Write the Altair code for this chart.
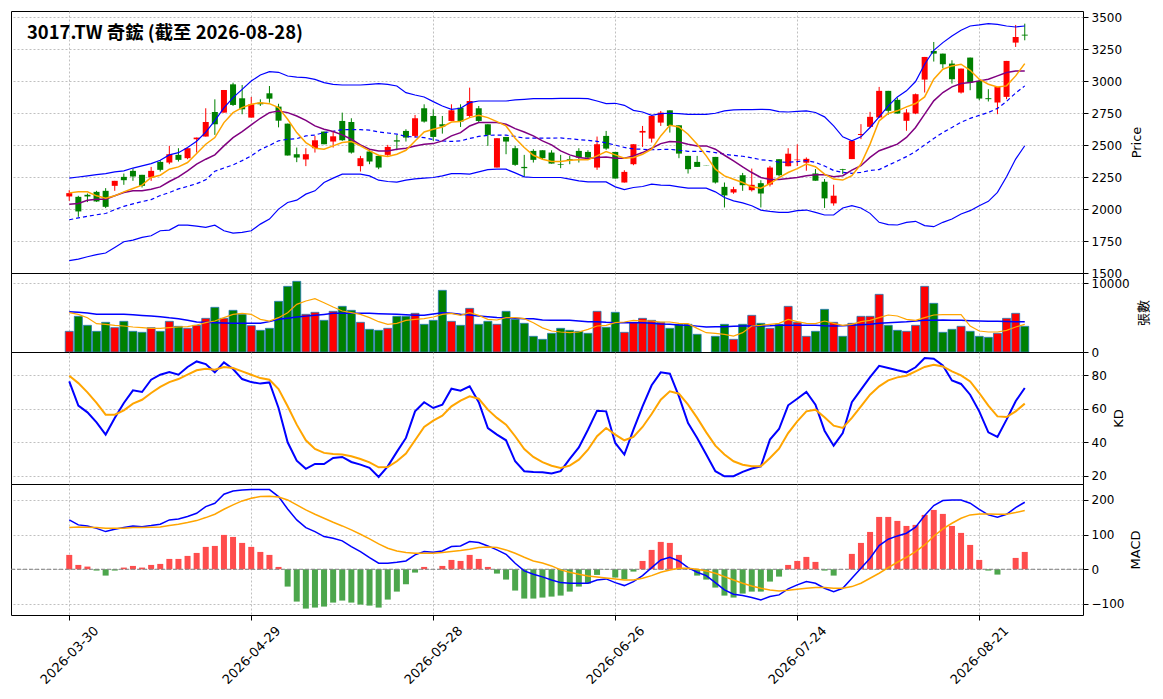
import altair as alt
import pandas as pd

title_text = "3017.TW 奇鋐 (截至 2026-08-28)"
tick_pos = [0, 20, 40, 60, 80, 100]
tick_labels = ["2026-03-30", "2026-04-29", "2026-05-28", "2026-06-26", "2026-07-24", "2026-08-21"]

open_ = [2098,2095,2111,2134,2142,2181,2251,2298,2267,2246,
 2368,2363,2423,2397,2545,2566,2758,2753,2974,2865,
 2714,2831,2904,2800,2667,2428,2387,2475,2605,2527,
 2688,2680,2335,2449,2415,2423,2537,2610,2571,2787,
 2727,2662,2688,2792,2727,2787,2662,2324,2563,2475,
 2329,2454,2459,2441,2350,2389,2454,2446,2324,2571,
 2446,2207,2350,2597,2550,2675,2771,2654,2415,2368,
 2338,2407,2173,2129,2264,2147,2202,2191,2389,2334,
 2382,2362,2278,2213,2044,2312,2390,2578,2642,2715,
 2923,2853,2689,2746,3011,3235,3214,3136,2910,3183,
 3001,2866,2832,2876,3300,3362]
high = [2147,2103,2121,2142,2163,2220,2277,2316,2267,2329,
 2381,2493,2475,2475,2558,2787,2857,2930,2987,2969,
 2875,2857,2961,2822,2667,2480,2475,2571,2605,2605,
 2753,2709,2415,2467,2415,2501,2579,2623,2735,2818,
 2779,2727,2818,2818,2948,2805,2662,2553,2563,2493,
 2423,2467,2459,2459,2423,2415,2475,2459,2566,2610,
 2446,2303,2506,2649,2727,2766,2771,2654,2415,2415,
 2338,2407,2207,2173,2282,2316,2225,2337,2389,2475,
 2505,2403,2312,2234,2190,2314,2533,2663,2759,2954,
 2923,2871,2780,2902,3188,3305,3214,3162,3097,3183,
 3014,2936,2954,3157,3438,3448]
low = [2064,1939,2054,2056,2007,2142,2189,2220,2168,2220,
 2293,2350,2371,2389,2441,2566,2579,2753,2805,2740,
 2714,2805,2831,2638,2418,2366,2335,2441,2506,2480,
 2532,2433,2293,2350,2311,2415,2459,2527,2558,2675,
 2532,2589,2688,2641,2719,2675,2493,2324,2428,2337,
 2251,2363,2389,2355,2319,2350,2363,2397,2306,2462,
 2238,2207,2342,2485,2519,2649,2597,2397,2277,2329,
 2336,2199,2012,2119,2142,2137,2012,2176,2254,2334,
 2336,2299,2221,2008,2026,2273,2390,2546,2632,2710,
 2736,2746,2611,2741,2910,3152,3100,2980,2902,2928,
 2850,2840,2741,2858,3266,3318]
close = [2124,1981,2098,2059,2017,2220,2225,2254,2181,2298,
 2306,2428,2384,2475,2558,2680,2662,2930,2813,2779,
 2818,2818,2862,2690,2418,2402,2428,2537,2506,2568,
 2537,2441,2397,2371,2324,2485,2527,2558,2709,2683,
 2563,2644,2771,2683,2844,2688,2579,2553,2527,2345,
 2319,2384,2397,2355,2345,2381,2402,2402,2506,2472,
 2238,2290,2506,2610,2727,2753,2649,2433,2311,2329,
 2336,2207,2106,2155,2186,2189,2121,2324,2264,2432,
 2386,2392,2221,2083,2104,2306,2533,2586,2720,2923,
 2767,2746,2754,2897,3188,3214,3131,3014,3097,2988,
 2863,2858,2954,3157,3344,3355]
volume = [2995,5168,3864,2995,4299,3526,4444,2995,2850,3526,
 2995,4444,3719,3429,3864,4878,6472,4878,6038,5458,
 3816,3140,3429,7342,9515,10240,5458,5748,4589,5893,
 6617,6038,4299,3284,3140,3429,5168,5168,5603,4009,
 4589,8936,4444,3864,6327,4009,4444,4009,5893,4733,
 4154,2270,1835,2705,3429,3140,2995,2705,5893,3574,
 5748,2850,4299,4878,4589,4299,3429,4009,4009,2560,
 None,2270,4009,1835,4009,5313,4154,3429,4009,6617,
 4299,2270,2995,6182,4299,2270,4154,5168,5168,8356,
 3864,3140,2995,3864,9515,7052,2850,3284,3719,2995,
 2270,2125,2705,4878,5603,3719]

ma5 = [2126,2134,2134,2103,2085,2103,2134,2160,2186,2246,
 2264,2311,2329,2363,2433,2506,2558,2675,2753,2792,
 2818,2831,2823,2792,2701,2597,2519,2475,2467,2493,
 2519,2527,2493,2454,2420,2410,2428,2459,2532,2602,
 2623,2641,2680,2683,2714,2732,2714,2683,2649,2553,
 2480,2420,2389,2371,2371,2381,2384,2384,2415,2449,
 2423,2397,2402,2428,2467,2571,2654,2641,2584,2506,
 2415,2311,2259,2233,2207,2173,2163,2199,2246,2285,
 2315,2351,2330,2273,2234,2226,2260,2351,2507,2689,
 2746,2767,2798,2824,2876,3014,3092,3118,3131,3084,
 3014,2975,2954,2962,3040,3136]
ma10 = [2038,2043,2069,2077,2077,2103,2129,2142,2142,2155,
 2173,2215,2251,2298,2350,2389,2423,2493,2558,2605,
 2657,2709,2753,2766,2753,2727,2693,2649,2623,2605,
 2579,2545,2501,2467,2454,2454,2467,2475,2493,2506,
 2511,2532,2571,2597,2649,2675,2675,2675,2662,2628,
 2602,2571,2532,2501,2454,2423,2402,2394,2402,2407,
 2397,2397,2415,2441,2475,2511,2527,2524,2506,2493,
 2493,2467,2420,2376,2329,2285,2246,2231,2231,2238,
 2247,2260,2268,2268,2252,2260,2304,2338,2403,2455,
 2481,2507,2559,2637,2741,2845,2910,2954,2980,2988,
 3001,3014,3040,3066,3079,3079]
bb_up = [2241,2250,2259,2268,2277,2290,2298,2320,2337,2355,
 2381,2423,2440,2480,2530,2600,2690,2790,2870,2935,
 3000,3047,3073,3068,3039,3031,3026,3013,2987,2974,
 2969,2969,2969,2974,2979,2974,2961,2909,2891,2875,
 2839,2805,2779,2787,2831,2844,2844,2844,2844,2852,
 2857,2862,2862,2862,2865,2865,2865,2862,2844,2823,
 2826,2810,2771,2758,2732,2745,2748,2745,2740,2740,
 2740,2748,2766,2774,2776,2776,2779,2776,2761,2758,
 2762,2767,2754,2720,2650,2564,2533,2564,2637,2720,
 2806,2876,2923,2996,3131,3240,3300,3352,3396,3430,
 3438,3448,3443,3430,3422,3430]
bb_mid = [1916,1930,1943,1955,1965,1995,2021,2040,2058,2073,
 2105,2129,2157,2177,2198,2228,2295,2320,2345,2378,
 2415,2464,2497,2533,2545,2550,2571,2578,2597,2607,
 2620,2620,2620,2616,2602,2594,2585,2567,2563,2558,
 2542,2532,2528,2532,2551,2567,2576,2577,2577,2567,
 2554,2554,2554,2554,2555,2549,2542,2537,2528,2517,
 2499,2481,2469,2467,2463,2465,2466,2459,2451,2451,
 2451,2441,2428,2419,2412,2400,2385,2378,2367,2365,
 2370,2379,2364,2336,2301,2286,2279,2286,2301,2308,
 2342,2375,2409,2450,2500,2551,2598,2637,2678,2708,
 2732,2754,2786,2841,2906,2962]
bb_low = [1596,1609,1627,1643,1656,1700,1744,1757,1778,1791,
 1830,1835,1874,1874,1866,1856,1874,1830,1812,1817,
 1830,1882,1921,1999,2051,2069,2116,2142,2207,2241,
 2272,2272,2272,2259,2225,2215,2210,2225,2236,2241,
 2246,2259,2277,2277,2272,2290,2308,2311,2311,2282,
 2251,2246,2246,2246,2246,2233,2220,2212,2212,2212,
 2173,2152,2168,2176,2194,2186,2184,2173,2163,2163,
 2163,2134,2090,2064,2048,2025,1991,1981,1973,1973,
 1987,1992,1974,1953,1953,2008,2026,2008,1966,1896,
 1878,1875,1896,1904,1870,1862,1896,1922,1961,1987,
 2026,2060,2130,2252,2390,2494]

vol_ma5 = [5700,5458,4975,4106,4009,3864,3767,3623,3526,3429,
 3429,3526,3623,3671,3912,4250,4492,4975,5458,5603,
 5458,4733,4492,4975,5700,6907,7390,7728,7149,6520,
 5941,5700,5458,4975,4395,4009,4154,4589,4733,4830,
 5072,5458,5603,5313,5700,5313,4733,4637,4975,4975,
 4830,4250,3500,3043,2898,2802,2898,3284,3767,3864,
 4250,4347,4589,4492,4492,4347,4347,4154,4106,3429,
 2802,2705,2560,2318,2802,3767,3864,4009,4154,4733,
 4395,4154,4106,4492,4154,3864,4009,4395,4589,4975,
 5361,5216,4733,4589,4975,5361,5409,5409,5409,3767,
 3043,2898,2898,3140,3623,4009]
vol_ma20 = [5845,5750,5650,5458,5458,5458,5458,5400,5300,5216,
 5100,4950,4830,4600,4347,4300,4250,4200,4154,4154,
 4154,4154,4400,4733,4900,5072,5200,5313,5450,5603,
 5603,5603,5603,5603,5550,5500,5458,5400,5313,5313,
 5500,5700,5600,5458,5350,5216,5100,5000,4975,4900,
 4830,4830,4637,4589,4589,4589,4500,4395,4395,4300,
 4250,4250,4250,4250,4150,4050,4009,3900,3864,3750,
 3623,3650,3671,3720,3767,3767,3767,3800,3864,3864,
 3864,3864,3864,3800,3767,3800,3864,3950,4009,4150,
 4250,4320,4395,4500,4589,4610,4637,4610,4589,4540,
 4492,4470,4444,4420,4395,4395]

k_val = [76.2,61.8,57.8,51.9,44.6,54.5,63.4,70.9,69.9,77.2,
 80.2,81.8,80.2,84.8,88.1,86.5,81.6,87.5,83.6,77.6,
 75.8,74.9,75.6,60.4,40.0,29.1,24.2,27.1,27.1,30.7,
 31.3,28.3,26.7,24.8,19.4,25.7,34.3,42.6,58.4,63.8,
 60.4,62.4,71.9,70.7,73.3,63.8,48.5,44.6,41.2,28.7,
 22.8,22.4,22.2,21.4,22.8,30.1,37.0,47.5,58.8,58.4,
 39.6,32.7,47.5,61.4,73.9,81.6,80.8,67.3,51.5,42.6,
 32.7,22.8,19.8,19.8,22.4,24.4,25.7,41.6,47.9,62.0,
 65.9,69.9,62.4,46.9,38.0,45.5,63.8,71.3,78.8,85.5,
 84.2,82.8,81.6,84.6,90.1,89.7,85.7,76.8,74.7,68.3,
 58.4,45.9,43.2,53.5,64.4,72.3]
d_val = [79.6,75.2,69.7,63.4,56.4,56.4,59.0,63.0,65.3,69.3,
 72.9,75.8,77.6,80.2,82.8,83.8,83.2,84.8,84.2,82.2,
 80.2,78.2,77.2,71.7,61.4,50.5,41.2,36.0,33.7,33.1,
 32.7,31.7,30.1,28.1,25.1,25.3,28.7,33.3,41.2,49.1,
 52.9,55.8,61.4,64.8,67.3,65.9,59.4,54.5,50.5,43.6,
 36.0,31.3,28.2,26.1,24.8,26.1,29.7,35.6,43.6,48.5,
 44.6,41.2,43.2,49.1,56.8,65.3,70.3,68.9,62.4,54.5,
 45.9,38.0,32.7,28.7,26.7,25.7,25.7,30.7,36.2,45.5,
 52.5,58.4,59.4,54.9,49.9,48.5,54.5,61.4,68.3,73.3,
 76.8,78.6,79.6,82.2,84.8,86.1,85.1,82.2,79.8,76.2,
 69.3,61.8,55.4,55.0,58.4,63.0]

dif = [142.4,128,125,118,108.7,115.4,120.2,125,123,126,
 129.9,142.4,145.3,152,161.6,180.9,190.5,216.5,226,229,
 230,230,230,209.7,174.1,142.4,120.2,108.7,94.3,89.5,
 81.8,65.4,51,33.7,17.3,17.3,20.2,24.0,41.4,51,
 49.1,52.9,65.4,67.3,79.8,77,67.3,55.8,43.3,17.3,
 -4.8,-14.4,-22,-30.8,-38.5,-40.4,-40.4,-40.4,-30.8,-27.9,
 -38.5,-47.1,-35.6,-18.3,4.8,26.9,34.6,24,4.8,-8.7,
 -18.3,-38.5,-59.6,-72.1,-76,-81.7,-88.5,-78.9,-74,-56.7,
 -45.2,-35.6,-40.4,-54.8,-64.5,-54.8,-26,2.9,31.7,68.3,
 86.6,96.2,103.9,121.2,154.9,183.7,198.2,200,200,190.5,
 173.1,156.8,150.1,158.7,178,193.4]
dea = [120.2,122.2,121.2,120.2,118.3,118.3,118.3,120.2,120.2,121.2,
 122.2,126,129.9,134.7,140.4,149.1,158.7,173.1,185.7,197.2,
 204.9,209.7,210.6,208.6,200,185.7,171.2,158.7,147.2,135.6,
 125,113.5,101,87.5,73.1,60.6,52.9,48.1,46.2,46.2,
 46.2,48.1,51,53.9,57.7,62.5,64.5,62.5,55.8,46.2,
 34.6,24,18,9.6,-1.9,-8.7,-14.4,-19.2,-22.1,-25,
 -27.9,-30.8,-30.8,-26,-18.3,-8.7,-1.9,2.9,2.9,0,
 -4.8,-11.5,-21.2,-30.8,-40.4,-48.1,-54.8,-59.6,-62.5,-60.6,
 -57.7,-54.8,-52.9,-52.9,-54.8,-54.8,-50,-40.4,-26,-11.5,
 4.8,20.2,34.6,51,70.2,95.2,116.3,132.7,147.2,156.8,
 159.7,159.7,158.7,158.7,163.5,169.3]
osc = [41.4,12.5,7.7,-3.8,-18.3,-3.8,4.8,9.6,4.8,12.5,
 15.4,29.8,29.8,38.5,47.1,64.5,67.3,99.1,93.3,76.0,
 64.5,50.0,41.4,6.7,-50.0,-93.3,-113.5,-110.6,-107.7,-96.2,
 -90.4,-96.2,-102.0,-104.9,-110.6,-87.5,-64.5,-43.3,-9.6,6.7,
 0,9.6,26.9,24.0,41.4,29.8,6.7,-12.5,-29.8,-61.5,
 -84.6,-84.6,-81.7,-78.9,-76,-64.5,-50,-41.4,-16.3,-1,
 -24,-28.9,-6.7,24,55.8,78.9,76,41.4,3,-18.3,
 -29.8,-52.9,-76,-81.7,-70.2,-64.5,-64.5,-35.6,-21.2,12.5,
 24,35.6,21.2,-3.8,-18.3,0,44.3,76,107.7,151,
 151,139.5,125,128,156.8,171.2,159.7,125,104.9,70.2,
 26.9,-3.8,-15.4,0,32.7,50]


def frame(**cols):
    d = pd.DataFrame({k: pd.Series(v, dtype="float") for k, v in cols.items()})
    d["idx"] = list(range(len(d)))
    return d


candles = frame(open=open_, high=high, low=low, close=close, volume=volume)
lines = frame(ma5=ma5, ma10=ma10, bb_up=bb_up, bb_mid=bb_mid, bb_low=bb_low,
              vol_ma5=vol_ma5, vol_ma20=vol_ma20, k=k_val, d=d_val,
              dif=dif, dea=dea, osc=osc)

W = 1072
xs = alt.Scale(domain=[-6.4, 111.4], nice=False, zero=False, padding=0)
label_expr = " : ".join(f"datum.value == {p} ? '{l}'" for p, l in zip(tick_pos, tick_labels)) + " : ''"
x_hidden = alt.Axis(values=tick_pos, labels=False, ticks=False, domain=False, title=None, grid=True)
x_bottom = alt.Axis(values=tick_pos, labelExpr=label_expr, labelAngle=315, labelAlign="center",
                    labelBaseline="middle", labelPadding=35, labelFontSize=13, tickSize=5,
                    domain=False, title=None, grid=True, labelFlush=False)


def X(axis):
    return alt.X("idx:Q", scale=xs, axis=axis)


def yaxis(values, title, pad, font="DejaVu Sans"):
    return alt.Axis(orient="right", values=values, title=title, titleAngle=270, titleBaseline="top",
                    titlePadding=pad, titleFont=font, grid=True, tickSize=5, labelPadding=3,
                    domain=False, format="d")


def yscale(lo, hi):
    return alt.Scale(domain=[lo, hi], nice=False, zero=False, padding=0)


updown = alt.condition("datum.close >= datum.open", alt.value("#ff0000"), alt.value("#008000"))

# ---- price panel
ps = yscale(1500, 3547)
pax = yaxis([1500, 1750, 2000, 2250, 2500, 2750, 3000, 3250, 3500], "Price", 9)


def PY(f):
    return alt.Y(f, scale=ps, axis=pax)


cbase = alt.Chart(candles)
wick = cbase.mark_rule(strokeWidth=1, clip=True).encode(x=X(x_hidden), y=PY("low:Q"), y2="high:Q", color=updown)
body = cbase.mark_bar(size=6, clip=True).encode(x=X(x_hidden), y=PY("open:Q"), y2="close:Q", color=updown)
lbase = alt.Chart(lines)
up_l = lbase.mark_line(color="#0000ff", strokeWidth=1.2, clip=True).encode(x=X(x_hidden), y=PY("bb_up:Q"))
lo_l = lbase.mark_line(color="#0000ff", strokeWidth=1.2, clip=True).encode(x=X(x_hidden), y=PY("bb_low:Q"))
mid_l = lbase.mark_line(color="#0000ff", strokeWidth=1.2, strokeDash=[4, 3], clip=True).encode(x=X(x_hidden), y=PY("bb_mid:Q"))
ma10_l = lbase.mark_line(color="#800080", strokeWidth=1.5, clip=True).encode(x=X(x_hidden), y=PY("ma10:Q"))
ma5_l = lbase.mark_line(color="#ffa500", strokeWidth=1.5, clip=True).encode(x=X(x_hidden), y=PY("ma5:Q"))
ttl = alt.Chart(pd.DataFrame({"t": [title_text]})).mark_text(
    align="left", baseline="middle", font="Noto Sans CJK TC", fontSize=18.4, fontWeight="bold", color="black"
).encode(x=alt.value(16), y=alt.value(22), text="t:N")
price = alt.layer(wick, body, up_l, lo_l, mid_l, ma10_l, ma5_l, ttl).properties(width=W, height=262)

# ---- volume panel
vs = yscale(0, 11450)
vax = yaxis([0, 10000], "張數", 8, font="Noto Sans CJK TC")


def VY(f):
    return alt.Y(f, scale=vs, axis=vax)


vbars = cbase.mark_bar(size=8, stroke="#1f77b4", strokeWidth=0.8, clip=True).encode(
    x=X(x_hidden), y=VY("volume:Q"), color=updown)
v20 = lbase.mark_line(color="#0000ff", strokeWidth=1.5, clip=True).encode(x=X(x_hidden), y=VY("vol_ma20:Q"))
v5 = lbase.mark_line(color="#ffa500", strokeWidth=1.2, clip=True).encode(x=X(x_hidden), y=VY("vol_ma5:Q"))
vol = alt.layer(vbars, v20, v5).properties(width=W, height=79)

# ---- KD panel
ks = yscale(15.2, 93.7)
kax = yaxis([20, 40, 60, 80], "KD", 6)
k_l = lbase.mark_line(color="#0000ff", strokeWidth=2, clip=True).encode(x=X(x_hidden), y=alt.Y("k:Q", scale=ks, axis=kax))
d_l = lbase.mark_line(color="#ffa500", strokeWidth=2, clip=True).encode(x=X(x_hidden), y=alt.Y("d:Q", scale=ks, axis=kax))
kd = alt.layer(k_l, d_l).properties(width=W, height=132)

# ---- MACD panel
ms = yscale(-132, 246)
max_ = yaxis([-100, 0, 100, 200], "MACD", 6)


def MY(f):
    return alt.Y(f, scale=ms, axis=max_)


hist = lbase.mark_bar(size=6, clip=True).encode(
    x=X(x_bottom), y=MY("osc:Q"),
    color=alt.condition("datum.osc >= 0", alt.value("#ff4d4d"), alt.value("#4ca64c")))
zero = alt.Chart(pd.DataFrame({"z": [0.0]})).mark_rule(color="#808080", strokeWidth=1, strokeDash=[4, 2]).encode(
    y=MY("z:Q"))
dif_l = lbase.mark_line(color="#0000ff", strokeWidth=1.5, clip=True).encode(x=X(x_bottom), y=MY("dif:Q"))
dea_l = lbase.mark_line(color="#ffa500", strokeWidth=1.5, clip=True).encode(x=X(x_bottom), y=MY("dea:Q"))
macd = alt.layer(hist, zero, dif_l, dea_l).properties(width=W, height=131)

chart = alt.vconcat(price, vol, kd, macd, spacing=0, bounds="flush").properties(
    padding={"left": 2, "top": 2, "right": 2, "bottom": 2}, background="white"
).configure_view(stroke="black", strokeWidth=1).configure_axis(
    labelFont="DejaVu Sans", labelFontSize=12, labelColor="black",
    titleFont="DejaVu Sans", titleFontSize=13, titleFontWeight="normal", titleColor="black",
    tickColor="black", gridColor="#b0b0b0", gridDash=[2, 2], gridWidth=0.8
)

chart.save("out.html", embed_options={"renderer": "svg", "actions": False})
